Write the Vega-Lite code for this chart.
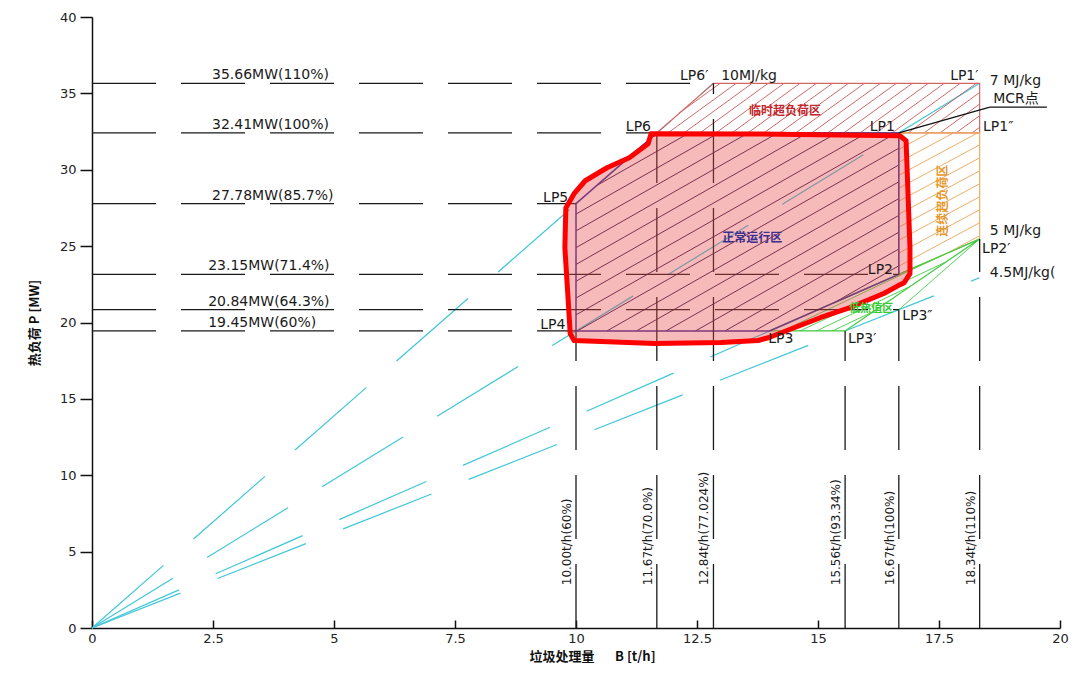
{
  "$schema": "https://vega.github.io/schema/vega-lite/v6.json",
  "width": 968,
  "height": 611,
  "autosize": {"type": "none"},
  "padding": {"left": 92, "top": 17, "right": 17, "bottom": 45},
  "background": "white",
  "config": {"view": {"stroke": null}, "font": "DejaVu Sans"},
  "datasets": {
    "segs": [
      {"g": "cyan", "x": 0, "y": 0, "x2": 12.84, "y2": 35.66},
      {"g": "cyan", "x": 0, "y": 0, "x2": 18.34, "y2": 35.66},
      {"g": "cyan", "x": 0, "y": 0, "x2": 18.34, "y2": 25.47},
      {"g": "cyan", "x": 0, "y": 0, "x2": 18.34, "y2": 22.93},
      {"g": "hdash", "x": 0, "y": 35.66, "x2": 12.84, "y2": 35.66},
      {"g": "hdash", "x": 0, "y": 32.41, "x2": 11.67, "y2": 32.41},
      {"g": "hdash", "x": 0, "y": 27.78, "x2": 10, "y2": 27.78},
      {"g": "hdash", "x": 0, "y": 23.15, "x2": 16.67, "y2": 23.15},
      {"g": "hdash", "x": 0, "y": 20.84, "x2": 16.67, "y2": 20.84},
      {"g": "hdash", "x": 0, "y": 19.45, "x2": 10, "y2": 19.45},
      {"g": "hdash", "x": 10, "y": 0, "x2": 10, "y2": 19.45},
      {"g": "hdash", "x": 11.67, "y": 0, "x2": 11.67, "y2": 32.41},
      {"g": "hdash", "x": 12.84, "y": 0, "x2": 12.84, "y2": 35.66},
      {"g": "hdash", "x": 15.56, "y": 0, "x2": 15.56, "y2": 19.45},
      {"g": "hdash", "x": 16.67, "y": 0, "x2": 16.67, "y2": 20.84},
      {"g": "hdash", "x": 18.34, "y": 0, "x2": 18.34, "y2": 25.47},
      {"g": "hN", "x": 15.33, "y": 21.29, "x2": 16.67, "y2": 23.71},
      {"g": "hN", "x": 13.69, "y": 19.45, "x2": 16.67, "y2": 24.81},
      {"g": "hN", "x": 13.08, "y": 19.45, "x2": 16.67, "y2": 25.91},
      {"g": "hN", "x": 12.47, "y": 19.45, "x2": 16.67, "y2": 27.01},
      {"g": "hN", "x": 11.86, "y": 19.45, "x2": 16.67, "y2": 28.11},
      {"g": "hN", "x": 11.25, "y": 19.45, "x2": 16.67, "y2": 29.21},
      {"g": "hN", "x": 10.64, "y": 19.45, "x2": 16.67, "y2": 30.31},
      {"g": "hN", "x": 10.03, "y": 19.45, "x2": 16.67, "y2": 31.41},
      {"g": "hN", "x": 10, "y": 20.5, "x2": 16.62, "y2": 32.41},
      {"g": "hN", "x": 10, "y": 21.6, "x2": 16.01, "y2": 32.41},
      {"g": "hN", "x": 10, "y": 22.7, "x2": 15.39, "y2": 32.41},
      {"g": "hN", "x": 10, "y": 23.8, "x2": 14.78, "y2": 32.41},
      {"g": "hN", "x": 10, "y": 24.9, "x2": 14.17, "y2": 32.41},
      {"g": "hN", "x": 10, "y": 26.0, "x2": 13.56, "y2": 32.41},
      {"g": "hN", "x": 10, "y": 27.1, "x2": 12.95, "y2": 32.41},
      {"g": "hN", "x": 10.43, "y": 28.97, "x2": 12.34, "y2": 32.41},
      {"g": "hN", "x": 11.55, "y": 32.09, "x2": 11.73, "y2": 32.41},
      {"g": "hR", "x": 18.18, "y": 32.41, "x2": 18.34, "y2": 32.78},
      {"g": "hR", "x": 17.85, "y": 32.41, "x2": 18.34, "y2": 33.54},
      {"g": "hR", "x": 17.52, "y": 32.41, "x2": 18.34, "y2": 34.30},
      {"g": "hR", "x": 17.19, "y": 32.41, "x2": 18.34, "y2": 35.06},
      {"g": "hR", "x": 16.86, "y": 32.41, "x2": 18.27, "y2": 35.66},
      {"g": "hR", "x": 16.53, "y": 32.41, "x2": 17.94, "y2": 35.66},
      {"g": "hR", "x": 16.20, "y": 32.41, "x2": 17.61, "y2": 35.66},
      {"g": "hR", "x": 15.87, "y": 32.41, "x2": 17.28, "y2": 35.66},
      {"g": "hR", "x": 15.53, "y": 32.41, "x2": 16.95, "y2": 35.66},
      {"g": "hR", "x": 15.20, "y": 32.41, "x2": 16.62, "y2": 35.66},
      {"g": "hR", "x": 14.87, "y": 32.41, "x2": 16.29, "y2": 35.66},
      {"g": "hR", "x": 14.54, "y": 32.41, "x2": 15.96, "y2": 35.66},
      {"g": "hR", "x": 14.21, "y": 32.41, "x2": 15.63, "y2": 35.66},
      {"g": "hR", "x": 13.88, "y": 32.41, "x2": 15.30, "y2": 35.66},
      {"g": "hR", "x": 13.55, "y": 32.41, "x2": 14.97, "y2": 35.66},
      {"g": "hR", "x": 13.22, "y": 32.41, "x2": 14.63, "y2": 35.66},
      {"g": "hR", "x": 12.89, "y": 32.41, "x2": 14.30, "y2": 35.66},
      {"g": "hR", "x": 12.56, "y": 32.41, "x2": 13.97, "y2": 35.66},
      {"g": "hR", "x": 12.23, "y": 32.41, "x2": 13.64, "y2": 35.66},
      {"g": "hR", "x": 11.90, "y": 32.41, "x2": 13.31, "y2": 35.66},
      {"g": "hR", "x": 12.13, "y": 33.71, "x2": 12.98, "y2": 35.66},
      {"g": "hO", "x": 17.68, "y": 24.56, "x2": 18.34, "y2": 25.68},
      {"g": "hO", "x": 16.67, "y": 23.69, "x2": 18.34, "y2": 26.53},
      {"g": "hO", "x": 16.67, "y": 24.54, "x2": 18.34, "y2": 27.38},
      {"g": "hO", "x": 16.67, "y": 25.39, "x2": 18.34, "y2": 28.23},
      {"g": "hO", "x": 16.67, "y": 26.24, "x2": 18.34, "y2": 29.08},
      {"g": "hO", "x": 16.67, "y": 27.09, "x2": 18.34, "y2": 29.93},
      {"g": "hO", "x": 16.67, "y": 27.94, "x2": 18.34, "y2": 30.78},
      {"g": "hO", "x": 16.67, "y": 28.79, "x2": 18.34, "y2": 31.63},
      {"g": "hO", "x": 16.67, "y": 29.64, "x2": 18.30, "y2": 32.41},
      {"g": "hO", "x": 16.67, "y": 30.49, "x2": 17.80, "y2": 32.41},
      {"g": "hO", "x": 16.67, "y": 31.34, "x2": 17.30, "y2": 32.41},
      {"g": "hO", "x": 16.67, "y": 32.19, "x2": 16.80, "y2": 32.41},
      {"g": "hG", "x": 15.3, "y": 19.45, "x2": 16.14, "y2": 20.71},
      {"g": "hG", "x": 14.97, "y": 19.45, "x2": 16.89, "y2": 22.34},
      {"g": "hG", "x": 14.63, "y": 19.45, "x2": 17.64, "y2": 23.96},
      {"g": "hG", "x": 14.27, "y": 19.45, "x2": 17.57, "y2": 24.40},
      {"g": "gline", "x": 16.67, "y": 20.84, "x2": 18.34, "y2": 25.47},
      {"g": "mcr", "x": 16.67, "y": 32.41, "x2": 18.55, "y2": 34.1},
      {"g": "mcr", "x": 18.55, "y": 34.1, "x2": 19.73, "y2": 34.1}
    ],
    "polys": [
      {"p": "N", "i": 0, "x": 10, "y": 19.45},
      {"p": "N", "i": 1, "x": 10, "y": 27.78},
      {"p": "N", "i": 2, "x": 11.67, "y": 32.41},
      {"p": "N", "i": 3, "x": 16.67, "y": 32.41},
      {"p": "N", "i": 4, "x": 16.67, "y": 23.15},
      {"p": "N", "i": 5, "x": 14.0, "y": 19.45},
      {"p": "N", "i": 6, "x": 10, "y": 19.45},
      {"p": "R", "i": 0, "x": 11.67, "y": 32.41},
      {"p": "R", "i": 1, "x": 12.84, "y": 35.66},
      {"p": "R", "i": 2, "x": 18.34, "y": 35.66},
      {"p": "R", "i": 3, "x": 18.34, "y": 32.41},
      {"p": "R", "i": 4, "x": 11.67, "y": 32.41},
      {"p": "O", "i": 0, "x": 16.67, "y": 32.41},
      {"p": "O", "i": 1, "x": 18.34, "y": 32.41},
      {"p": "O", "i": 2, "x": 18.34, "y": 25.47},
      {"p": "O", "i": 3, "x": 16.67, "y": 23.15},
      {"p": "O", "i": 4, "x": 16.67, "y": 32.41},
      {"p": "G", "i": 0, "x": 14.0, "y": 19.45},
      {"p": "G", "i": 1, "x": 15.56, "y": 19.45},
      {"p": "G", "i": 2, "x": 18.34, "y": 25.47},
      {"p": "G", "i": 3, "x": 14.0, "y": 19.45},
      {"p": "B", "i": 0, "x": 11.55, "y": 32.35},
      {"p": "B", "i": 1, "x": 14.2, "y": 32.33},
      {"p": "B", "i": 2, "x": 16.69, "y": 32.22},
      {"p": "B", "i": 3, "x": 16.82, "y": 31.9},
      {"p": "B", "i": 4, "x": 16.86, "y": 28.43},
      {"p": "B", "i": 5, "x": 16.9, "y": 24.9},
      {"p": "B", "i": 6, "x": 16.9, "y": 23.2},
      {"p": "B", "i": 7, "x": 16.78, "y": 22.6},
      {"p": "B", "i": 8, "x": 16.65, "y": 22.4},
      {"p": "B", "i": 9, "x": 16.36, "y": 21.9},
      {"p": "B", "i": 10, "x": 15.66, "y": 20.98},
      {"p": "B", "i": 11, "x": 15.06, "y": 20.33},
      {"p": "B", "i": 12, "x": 14.52, "y": 19.67},
      {"p": "B", "i": 13, "x": 13.99, "y": 19.02},
      {"p": "B", "i": 14, "x": 13.76, "y": 18.82},
      {"p": "B", "i": 15, "x": 13.0, "y": 18.69},
      {"p": "B", "i": 16, "x": 11.63, "y": 18.63},
      {"p": "B", "i": 17, "x": 9.96, "y": 18.82},
      {"p": "B", "i": 18, "x": 9.88, "y": 19.28},
      {"p": "B", "i": 19, "x": 9.83, "y": 21.9},
      {"p": "B", "i": 20, "x": 9.77, "y": 24.9},
      {"p": "B", "i": 21, "x": 9.79, "y": 27.5},
      {"p": "B", "i": 22, "x": 9.96, "y": 28.43},
      {"p": "B", "i": 23, "x": 10.19, "y": 29.28},
      {"p": "B", "i": 24, "x": 10.64, "y": 30.13},
      {"p": "B", "i": 25, "x": 11.1, "y": 30.78},
      {"p": "B", "i": 26, "x": 11.49, "y": 31.7},
      {"p": "B", "i": 27, "x": 11.55, "y": 32.35}
    ],
    "labels": [
      {"g": "h", "t": "35.66MW(110%)", "x": 2.48, "y": 35.66},
      {"g": "h", "t": "32.41MW(100%)", "x": 2.48, "y": 32.41},
      {"g": "h", "t": "27.78MW(85.7%)", "x": 2.48, "y": 27.78},
      {"g": "h", "t": "23.15MW(71.4%)", "x": 2.4, "y": 23.15},
      {"g": "h", "t": "20.84MW(64.3%)", "x": 2.4, "y": 20.84},
      {"g": "h", "t": "19.45MW(60%)", "x": 2.4, "y": 19.45},
      {"g": "v", "t": "10.00t/h(60%)", "x": 10, "y": 2.8},
      {"g": "v", "t": "11.67t/h(70.0%)", "x": 11.67, "y": 2.8},
      {"g": "v", "t": "12.84t/h(77.024%)", "x": 12.84, "y": 2.8},
      {"g": "v", "t": "15.56t/h(93.34%)", "x": 15.56, "y": 2.8},
      {"g": "v", "t": "16.67t/h(100%)", "x": 16.67, "y": 2.8},
      {"g": "v", "t": "18.34t/h(110%)", "x": 18.34, "y": 2.8},
      {"g": "lp", "t": "LP6′", "x": 12.15, "y": 35.7},
      {"g": "lp", "t": "10MJ/kg", "x": 13.0, "y": 35.7},
      {"g": "lp", "t": "LP1′", "x": 17.73, "y": 35.7},
      {"g": "lp", "t": "7 MJ/kg", "x": 18.55, "y": 35.35},
      {"g": "lp", "t": "MCR点", "x": 18.62, "y": 34.2},
      {"g": "lp", "t": "LP1″", "x": 18.41, "y": 32.35},
      {"g": "lp", "t": "LP6", "x": 11.03, "y": 32.35},
      {"g": "lp", "t": "LP1", "x": 16.07, "y": 32.35},
      {"g": "lp", "t": "LP5", "x": 9.32, "y": 27.7},
      {"g": "lp", "t": "LP4", "x": 9.26, "y": 19.35},
      {"g": "lp", "t": "LP2", "x": 16.03, "y": 23.0},
      {"g": "lp", "t": "LP3", "x": 13.97, "y": 18.43},
      {"g": "lp", "t": "LP3′", "x": 15.62, "y": 18.43},
      {"g": "lp", "t": "LP3″", "x": 16.74, "y": 20.0},
      {"g": "lp", "t": "LP2′", "x": 18.39, "y": 24.38},
      {"g": "lp", "t": "5 MJ/kg", "x": 18.55, "y": 25.5},
      {"g": "lp", "t": "4.5MJ/kg(", "x": 18.55, "y": 22.75},
      {"g": "rR", "t": "临时超负荷区", "x": 14.32, "y": 33.86},
      {"g": "rN", "t": "正常运行区", "x": 13.64, "y": 25.5},
      {"g": "rO", "t": "连续超负荷区", "x": 17.58, "y": 27.97},
      {"g": "rG", "t": "低热值区", "x": 16.1, "y": 20.9}
    ]
  },
  "encoding": {
    "x": {
      "field": "x", "type": "quantitative",
      "scale": {"domain": [0, 20], "nice": false, "zero": false},
      "axis": {
        "title": "垃圾处理量\u00a0\u00a0\u00a0\u00a0\u00a0\u00a0\u00a0B [t/h]", "values": [0, 2.5, 5, 7.5, 10, 12.5, 15, 17.5, 20],
        "format": ".1~f",
        "grid": false, "tickSize": -8, "tickWidth": 1.5, "tickColor": "#111",
        "domainColor": "#111", "domainWidth": 1.5, "labelPadding": 12,
        "labelFont": "DejaVu Sans", "labelFontSize": 13, "labelColor": "#222", "labelFlush": false,
        "titleFont": "Noto Sans CJK SC", "titleFontSize": 13, "titleFontWeight": "bold", "titleColor": "#111",
        "titlePadding": 5, "titleX": 500, "titleAlign": "center"
      }
    },
    "y": {
      "field": "y", "type": "quantitative",
      "scale": {"domain": [0, 40], "nice": false, "zero": false},
      "axis": {
        "title": "热负荷 P [MW]", "values": [0, 5, 10, 15, 20, 25, 30, 35, 40],
        "grid": false, "tickSize": 12, "tickWidth": 1.5, "tickColor": "#111",
        "domainColor": "#111", "domainWidth": 1.5, "labelPadding": 4,
        "labelFont": "DejaVu Sans", "labelFontSize": 13, "labelColor": "#222", "labelFlush": false,
        "titleFont": "Noto Sans CJK SC", "titleFontSize": 13, "titleFontWeight": "bold", "titleColor": "#111",
        "titlePadding": 18
      }
    }
  },
  "layer": [
    {"data": {"name": "segs"}, "transform": [{"filter": "datum.g === 'cyan'"}],
     "mark": {"type": "rule", "color": "#3fc6d9", "strokeWidth": 1.2, "strokeDash": [95, 40]},
     "encoding": {"x2": {"field": "x2"}, "y2": {"field": "y2"}}},
    {"data": {"name": "segs"}, "transform": [{"filter": "datum.g === 'hN'"}],
     "mark": {"type": "rule", "color": "#3a1f55", "strokeWidth": 1},
     "encoding": {"x2": {"field": "x2"}, "y2": {"field": "y2"}}},
    {"data": {"name": "segs"}, "transform": [{"filter": "datum.g === 'hR'"}],
     "mark": {"type": "rule", "color": "#c85a5a", "strokeWidth": 0.9},
     "encoding": {"x2": {"field": "x2"}, "y2": {"field": "y2"}}},
    {"data": {"name": "segs"}, "transform": [{"filter": "datum.g === 'hO'"}],
     "mark": {"type": "rule", "color": "#eaa55a", "strokeWidth": 0.9},
     "encoding": {"x2": {"field": "x2"}, "y2": {"field": "y2"}}},
    {"data": {"name": "segs"}, "transform": [{"filter": "datum.g === 'hG' || datum.g === 'gline'"}],
     "mark": {"type": "rule", "color": "#44cc44", "strokeWidth": 0.9},
     "encoding": {"x2": {"field": "x2"}, "y2": {"field": "y2"}}},
    {"data": {"name": "polys"}, "transform": [{"filter": "datum.p === 'R'"}],
     "mark": {"type": "line", "color": "#d46666", "strokeWidth": 1.2},
     "encoding": {"order": {"field": "i", "type": "quantitative"}}},
    {"data": {"name": "polys"}, "transform": [{"filter": "datum.p === 'O'"}],
     "mark": {"type": "line", "color": "#f0b060", "strokeWidth": 1.2},
     "encoding": {"order": {"field": "i", "type": "quantitative"}}},
    {"data": {"name": "polys"}, "transform": [{"filter": "datum.p === 'G'"}],
     "mark": {"type": "line", "color": "#3ccc3c", "strokeWidth": 1.2},
     "encoding": {"order": {"field": "i", "type": "quantitative"}}},
    {"data": {"name": "polys"}, "transform": [{"filter": "datum.p === 'N'"}],
     "mark": {"type": "line", "color": "#3b2f9a", "strokeWidth": 1.5},
     "encoding": {"order": {"field": "i", "type": "quantitative"}}},
    {"data": {"name": "segs"}, "transform": [{"filter": "datum.g === 'hdash'"}],
     "mark": {"type": "rule", "color": "#1a1a1a", "strokeWidth": 1.3, "strokeDash": [64, 25]},
     "encoding": {"x2": {"field": "x2"}, "y2": {"field": "y2"}}},
    {"data": {"name": "polys"}, "transform": [{"filter": "datum.p === 'B'"}],
     "mark": {"type": "line", "fill": "#ea4a4a", "fillOpacity": 0.38, "strokeOpacity": 0},
     "encoding": {"order": {"field": "i", "type": "quantitative"}}},
    {"data": {"name": "polys"}, "transform": [{"filter": "datum.p === 'B'"}],
     "mark": {"type": "line", "color": "#ff0000", "strokeWidth": 5, "strokeJoin": "round", "strokeCap": "round"},
     "encoding": {"order": {"field": "i", "type": "quantitative"}}},
    {"data": {"name": "segs"}, "transform": [{"filter": "datum.g === 'mcr'"}],
     "mark": {"type": "rule", "color": "#111", "strokeWidth": 1.2},
     "encoding": {"x2": {"field": "x2"}, "y2": {"field": "y2"}}},
    {"data": {"name": "labels"}, "transform": [{"filter": "datum.g === 'h'"}],
     "mark": {"type": "text", "align": "left", "baseline": "bottom", "dy": -1, "fontSize": 14, "font": "DejaVu Sans", "color": "#1a1a1a"},
     "encoding": {"text": {"field": "t"}}},
    {"data": {"name": "labels"}, "transform": [{"filter": "datum.g === 'v'"}],
     "mark": {"type": "text", "align": "left", "baseline": "bottom", "angle": 270, "dy": -2, "fontSize": 12, "font": "DejaVu Sans", "color": "#1a1a1a"},
     "encoding": {"text": {"field": "t"}}},
    {"data": {"name": "labels"}, "transform": [{"filter": "datum.g === 'lp'"}],
     "mark": {"type": "text", "align": "left", "baseline": "bottom", "fontSize": 14, "font": "DejaVu Sans, Noto Sans CJK SC", "color": "#1a1a1a"},
     "encoding": {"text": {"field": "t"}}},
    {"data": {"name": "labels"}, "transform": [{"filter": "datum.g === 'rR'"}],
     "mark": {"type": "text", "align": "center", "baseline": "middle", "fontSize": 12, "fontWeight": "bold", "font": "Noto Sans CJK SC", "color": "#c0282d"},
     "encoding": {"text": {"field": "t"}}},
    {"data": {"name": "labels"}, "transform": [{"filter": "datum.g === 'rN'"}],
     "mark": {"type": "text", "align": "center", "baseline": "middle", "fontSize": 12, "fontWeight": "bold", "font": "Noto Sans CJK SC", "color": "#3b2f8f"},
     "encoding": {"text": {"field": "t"}}},
    {"data": {"name": "labels"}, "transform": [{"filter": "datum.g === 'rO'"}],
     "mark": {"type": "text", "align": "center", "baseline": "middle", "angle": 270, "fontSize": 12, "fontWeight": "bold", "font": "Noto Sans CJK SC", "color": "#e8962a"},
     "encoding": {"text": {"field": "t"}}},
    {"data": {"name": "labels"}, "transform": [{"filter": "datum.g === 'rG'"}],
     "mark": {"type": "text", "align": "center", "baseline": "middle", "fontSize": 11, "fontWeight": "bold", "font": "Noto Sans CJK SC", "color": "#33cc33"},
     "encoding": {"text": {"field": "t"}}}
  ]
}
